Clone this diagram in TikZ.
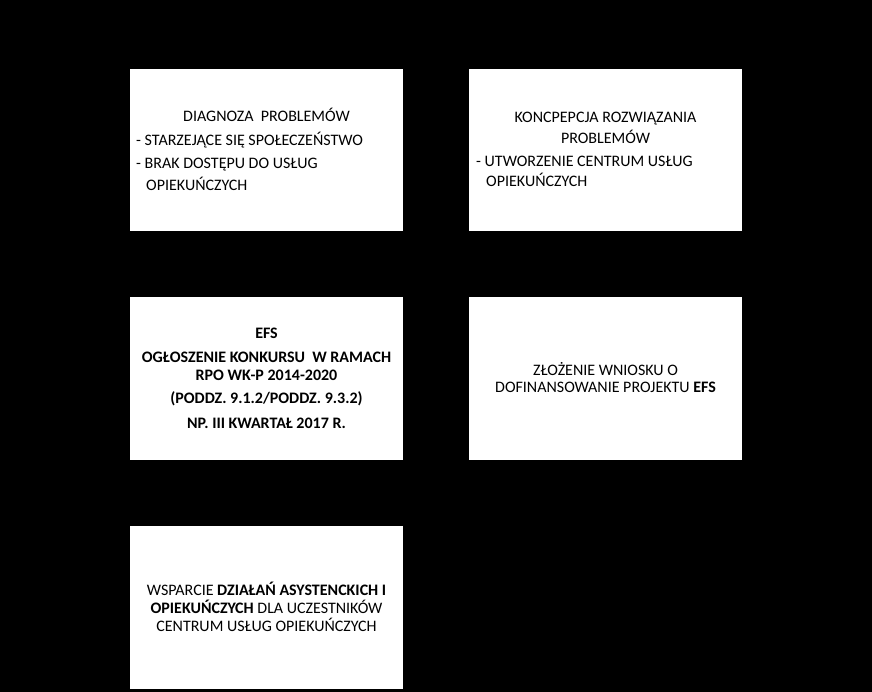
\documentclass[tikz,border=0pt]{standalone}
\usepackage{fontspec}
\setmainfont{Carlito}
\begin{document}
\begin{tikzpicture}[x=1pt,y=-1pt,
  card/.style={fill=white,draw=none},
  txt/.style={inner sep=0pt,font=\fontsize{16}{19}\selectfont,text=black},
  ttl/.style={txt,anchor=center},
  bttl/.style={ttl,font=\fontsize{16}{19}\selectfont\bfseries},
  item/.style={txt,anchor=west}]
\fill[black] (0,0) rectangle (872,692);
\useasboundingbox (0,0) rectangle (872,692);
% boxes
\path[card] (130,69) rectangle (403,231) node[pos=0.5] (b1) {};
\path[card] (469,69) rectangle (742,231) node[pos=0.5] (b2) {};
\path[card] (130,297) rectangle (403,460) node[pos=0.5] (b3) {};
\path[card] (469,297) rectangle (742,460) node[pos=0.5] (b4) {};
\path[card] (130,526) rectangle (403,689) node[pos=0.5] (b5) {};
% box 1
\node[ttl] (t1a) at (266.5,115) {DIAGNOZA\ \ PROBLEMÓW};
\node[item] (t1b) at (136,140) {- STARZEJĄCE SIĘ SPOŁECZEŃSTWO};
\node[item] (t1c) at (136,165) {- BRAK DOSTĘPU DO USŁUG};
\node[item] (t1d) at (146,184) {OPIEKUŃCZYCH};
% box 2
\node[ttl] (t2a) at (605.5,119) {KONCPEPCJA ROZWIĄZANIA};
\node[ttl] (t2b) at (605.5,137) {PROBLEMÓW};
\node[item] (t2c) at (476,161) {- UTWORZENIE CENTRUM USŁUG};
\node[item] (t2d) at (486,180) {OPIEKUŃCZYCH};
% box 3
\node[bttl] (t3a) at (266.5,333) {EFS};
\node[bttl] (t3b) at (266.5,357) {OGŁOSZENIE KONKURSU\ \ W RAMACH};
\node[bttl] (t3c) at (266.5,375) {RPO WK-P 2014-2020};
\node[bttl] (t3d) at (266.5,399) {(PODDZ. 9.1.2/PODDZ. 9.3.2)};
\node[bttl] (t3e) at (266.5,423) {NP. III KWARTAŁ 2017 R.};
% box 4
\node[ttl] (t4a) at (605.5,369) {ZŁOŻENIE WNIOSKU O};
\node[ttl] (t4b) at (605.5,387) {DOFINANSOWANIE PROJEKTU \textbf{EFS}};
% box 5
\node[ttl] (t5a) at (266.5,589) {WSPARCIE \textbf{DZIAŁAŃ ASYSTENCKICH I}};
\node[ttl] (t5b) at (266.5,607) {\textbf{OPIEKUŃCZYCH} DLA UCZESTNIKÓW};
\node[ttl] (t5c) at (266.5,625) {CENTRUM USŁUG OPIEKUŃCZYCH};
\end{tikzpicture}
\end{document}
